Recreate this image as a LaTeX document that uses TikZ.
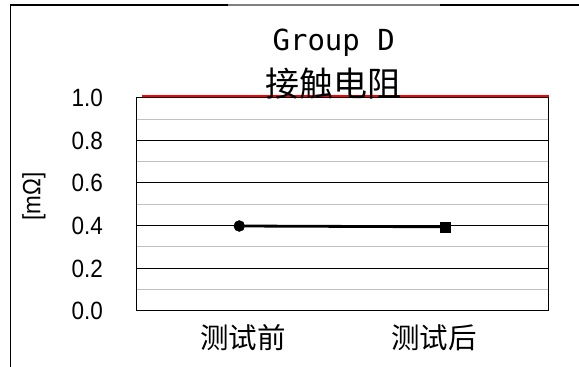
\documentclass[tikz,border=0pt]{standalone}
\usepackage{fontspec}
\setmainfont{Liberation Sans}
\newfontfamily\axisfont{Liberation Sans}[FakeStretch=0.9]
\newfontfamily\titlemono{DejaVu Sans Mono}
\newfontfamily\cjk{Noto Sans CJK SC}
\definecolor{minorgrid}{HTML}{C0C0C0}
\definecolor{framegray}{HTML}{808080}
\tikzset{
  ticklab/.style={anchor=base east, inner sep=0pt, font=\axisfont\fontsize{25}{25}\selectfont},
  catlab/.style={anchor=base, inner sep=0pt, font=\cjk\fontsize{28.5}{28.5}\selectfont},
  majorgrid/.style={black, line width=1pt},
  minorline/.style={minorgrid, line width=1pt},
  marker/.style={fill=black, draw=black, inner sep=0pt, minimum size=10pt},
  dataline/.style={black, line width=2.8pt},
}
\begin{document}
\begin{tikzpicture}[x=1pt,y=-1pt]
\useasboundingbox (0,0) rectangle (579,367);
% outer chart frame (left and top edges visible)
\draw[black, line width=1.3pt] (10.5,367) -- (10.5,5) -- (228,5);
\draw[framegray, line width=1.3pt] (228,5) -- (440,5);
\draw[black, line width=1.3pt] (440,5) -- (579,5);
% gridlines
\foreach \k in {0,...,4} {
  \draw[minorline] (136.7,{310.7-(\k+0.5)*42.6}) -- (548.3,{310.7-(\k+0.5)*42.6});
}
\foreach \k in {1,...,4} {
  \draw[majorgrid] (136.7,{310.7-\k*42.6}) -- (548.3,{310.7-\k*42.6});
}
% plot frame
\draw[black, line width=1.4pt] (136.7,97.7) rectangle (548.3,310.7);
% red line at top
\draw[red, line width=2pt] (141.7,96.4) -- (549,96.4);
% tick labels
\node[ticklab] (t0) at (103,{310.7+9}) {0.0};
\node[ticklab] (t1) at (103,{310.7-42.6+9}) {0.2};
\node[ticklab] (t2) at (103,{310.7-2*42.6+9}) {0.4};
\node[ticklab] (t3) at (103,{310.7-3*42.6+9}) {0.6};
\node[ticklab] (t4) at (103,{310.7-4*42.6+9}) {0.8};
\node[ticklab] (t5) at (103,{310.7-5*42.6+9}) {1.0};
% axis title
\node[rotate=90, inner sep=0pt, font=\axisfont\fontsize{25}{25}\selectfont] (ytitle) at (34,196.7) {[mΩ]};
% category labels
\node[catlab] (c1) at (243,348) {测试前};
\node[catlab] (c2) at (434,348) {测试后};
% title
\node[anchor=base, inner sep=0pt, font=\titlemono\fontsize{29}{29}\selectfont] (title1) at (333.7,50) {Group D};
\node[anchor=base, inner sep=0pt, font=\cjk\fontsize{34}{34}\selectfont] (title2) at (333.5,96) {接触电阻};
% data
\node[marker, circle, minimum size=11pt] (p1) at (239.3,226) {};
\node[marker, rectangle] (p2) at (445,226.8) {};
\draw[dataline] (p1) -- (p2);
\end{tikzpicture}
\end{document}
